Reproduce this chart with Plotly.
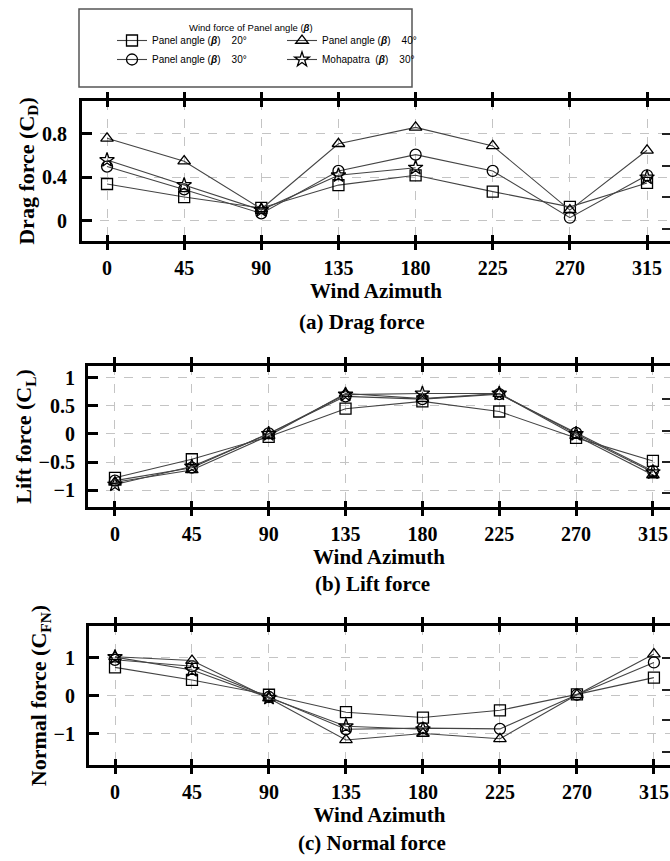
import plotly.graph_objects as go

# ---------------- data ----------------
azimuth = [0, 45, 90, 135, 180, 225, 270, 315]
x_ticks = [0, 45, 90, 135, 180, 225, 270, 315]

drag_20 = [0.34, 0.22, 0.12, 0.33, 0.42, 0.27, 0.13, 0.35]
drag_30 = [0.50, 0.29, 0.07, 0.46, 0.61, 0.46, 0.03, 0.42]
drag_40 = [0.76, 0.55, 0.11, 0.71, 0.86, 0.69, 0.10, 0.65]
drag_moh = [0.56, 0.33, 0.10, 0.42, 0.49, None, None, 0.40]

lift_20 = [-0.78, -0.45, -0.05, 0.45, 0.58, 0.40, -0.07, -0.48]
lift_30 = [-0.83, -0.60, 0.01, 0.67, 0.62, 0.71, 0.02, -0.66]
lift_40 = [-0.86, -0.64, -0.03, 0.72, 0.63, 0.72, -0.03, -0.73]
lift_moh = [-0.90, -0.58, 0.00, 0.70, 0.72, 0.72, 0.00, -0.68]

norm_20 = [0.75, 0.42, 0.03, -0.43, -0.57, -0.38, 0.04, 0.48]
norm_30 = [0.95, 0.78, -0.03, -0.88, -0.85, -0.87, 0.03, 0.88]
norm_40 = [1.03, 0.93, -0.06, -1.16, -0.99, -1.13, 0.03, 1.10]
norm_moh = [1.02, 0.68, -0.05, -0.80, -0.88, None, None, None]

drag_ticks = [0, 0.4, 0.8]
lift_ticks = [-1, -0.5, 0, 0.5, 1]
norm_ticks = [-1, 0, 1]

# series order: 20°, 30°, 40°, Mohapatra
series_names = [
    "Panel angle (<b><i>β</i></b>)    20°",
    "Panel angle (<b><i>β</i></b>)    30°",
    "Panel angle (<b><i>β</i></b>)    40°",
    "Mohapatra  (<b><i>β</i></b>)    30°",
]
series_symbols = ["square-open", "circle-open", "triangle-up-open", "star-open"]
series_legend = ["legend", "legend", "legend2", "legend2"]
legend_title = "Wind force of Panel angle (<b><i>β</i></b>)"

W, H = 670, 861
SERIF = "Liberation Serif, Times New Roman, serif"
SANS = "Liberation Sans Narrow, Arial Narrow, Liberation Sans, Arial, sans-serif"

fig = go.Figure()

panels = [
    ("x", "y", [drag_20, drag_30, drag_40, drag_moh], True),
    ("x2", "y2", [lift_20, lift_30, lift_40, lift_moh], False),
    ("x3", "y3", [norm_20, norm_30, norm_40, norm_moh], False),
]
for xa, ya, sets, show in panels:
    for i, vals in enumerate(sets):
        fig.add_trace(go.Scatter(
            x=azimuth, y=vals, xaxis=xa, yaxis=ya,
            mode="lines+markers", name=series_names[i],
            legend=series_legend[i], showlegend=show, connectgaps=False,
            line=dict(color="#444444", width=1.1),
            marker=dict(symbol=series_symbols[i], size=11, color="black",
                        line=dict(color="black", width=1.3)),
        ))

# invisible traces for the right-hand tick axes
for ya, xa in [("y4", "x"), ("y5", "x2"), ("y6", "x3")]:
    fig.add_trace(go.Scatter(x=[], y=[], xaxis=xa, yaxis=ya,
                             showlegend=False, hoverinfo="skip"))


def px_x(p):
    return p / W


def px_y(p):
    return 1 - p / H


tickfont = dict(family=SERIF, size=20, color="black", weight="bold")
titlefont = dict(family=SERIF, size=21, color="black", weight="bold")
ytitlefont = dict(family=SERIF, size=22, color="black", weight="bold")


def xaxis(domain_l, rng, anchor):
    return dict(
        domain=[px_x(domain_l), 1.0], range=rng, anchor=anchor,
        tickvals=x_ticks, ticks="inside", ticklen=6, tickwidth=3, tickcolor="black",
        showline=True, linewidth=3, linecolor="black", mirror="allticks",
        showgrid=True, gridcolor="#c4c4c4", gridwidth=1.2, griddash="dash",
        zeroline=False, tickfont=tickfont, ticklabelstandoff=7,
        title=dict(text="Wind Azimuth", font=titlefont, standoff=2),
    )


def yaxis(top, bottom, rng, ticks, title, anchor, standoff, lstand):
    return dict(
        domain=[px_y(bottom), px_y(top)], range=rng, anchor=anchor,
        tickvals=ticks, ticks="inside", ticklen=10, tickwidth=3, tickcolor="black",
        showline=True, linewidth=3, linecolor="black", mirror=False,
        showgrid=True, gridcolor="#c4c4c4", gridwidth=1.2, griddash="dash",
        zeroline=False, tickfont=tickfont, ticklabelstandoff=lstand,
        title=dict(text=title, font=ytitlefont, standoff=standoff),
    )


def raxis(over, anchor, rng, ticks):
    return dict(
        overlaying=over, anchor=anchor, side="right", range=rng,
        tickvals=ticks, ticks="inside", ticklen=8, tickwidth=2, tickcolor="#222",
        showline=False, showgrid=False, zeroline=False, showticklabels=False,
    )


def legend_at(left_px, top_px):
    return dict(
        orientation="v", x=px_x(left_px), y=px_y(top_px), xanchor="left", yanchor="top",
        borderwidth=0, bgcolor="rgba(0,0,0,0)",
        font=dict(family=SANS, size=10, color="black"),
        tracegroupgap=0, itemwidth=30,
    )


drag_range = [-0.184, 1.103]
lift_range = [-1.30, 1.21]
norm_range = [-1.82, 1.84]

fig.update_layout(
    width=W, height=H,
    margin=dict(l=0, r=0, t=0, b=0),
    paper_bgcolor="white", plot_bgcolor="white",
    xaxis=xaxis(82, [-14.6, 328.4], "y"),
    yaxis=yaxis(101, 241, drag_range, drag_ticks,
                "Drag force (C<sub>D</sub>)", "x", 2, 8),
    xaxis2=xaxis(88, [-15.8, 325.0], "y2"),
    yaxis2=yaxis(366, 507, lift_range, lift_ticks,
                 "Lift force (C<sub>L</sub>)", "x2", 1, 6),
    xaxis3=xaxis(89, [-15.2, 324.4], "y3"),
    yaxis3=yaxis(626, 765, norm_range, norm_ticks,
                 "Normal force (C<sub>FN</sub>)", "x3", 0, 7),
    yaxis4=raxis("y", "x", drag_range, [0.8, 0.51, 0.22, -0.07]),
    yaxis5=raxis("y2", "x2", lift_range, [0.62, 0.05, -0.5, -1.05]),
    yaxis6=raxis("y3", "x3", norm_range, [1.0, 0.16, -0.63, -1.47]),
    legend=legend_at(112, 26),
    legend2=legend_at(282, 26),
    shapes=[
        dict(type="rect", xref="paper", yref="paper",
             x0=px_x(79), x1=px_x(412), y0=px_y(87), y1=px_y(9),
             line=dict(color="#555555", width=1.5), fillcolor="rgba(0,0,0,0)", layer="below"),
    ],
    annotations=[
        dict(text=legend_title, x=px_x(251), y=px_y(28), xref="paper", yref="paper",
             showarrow=False, font=dict(family=SANS, size=9.5, color="black"),
             xanchor="center", yanchor="middle"),
        dict(text="(a) Drag force", x=px_x(362), y=px_y(322), xref="paper", yref="paper",
             showarrow=False, font=titlefont, xanchor="center", yanchor="middle"),
        dict(text="(b) Lift force", x=px_x(372), y=px_y(584), xref="paper", yref="paper",
             showarrow=False, font=titlefont, xanchor="center", yanchor="middle"),
        dict(text="(c) Normal force", x=px_x(372), y=px_y(843), xref="paper", yref="paper",
             showarrow=False, font=titlefont, xanchor="center", yanchor="middle"),
    ],
)

fig.write_html("out.html")
